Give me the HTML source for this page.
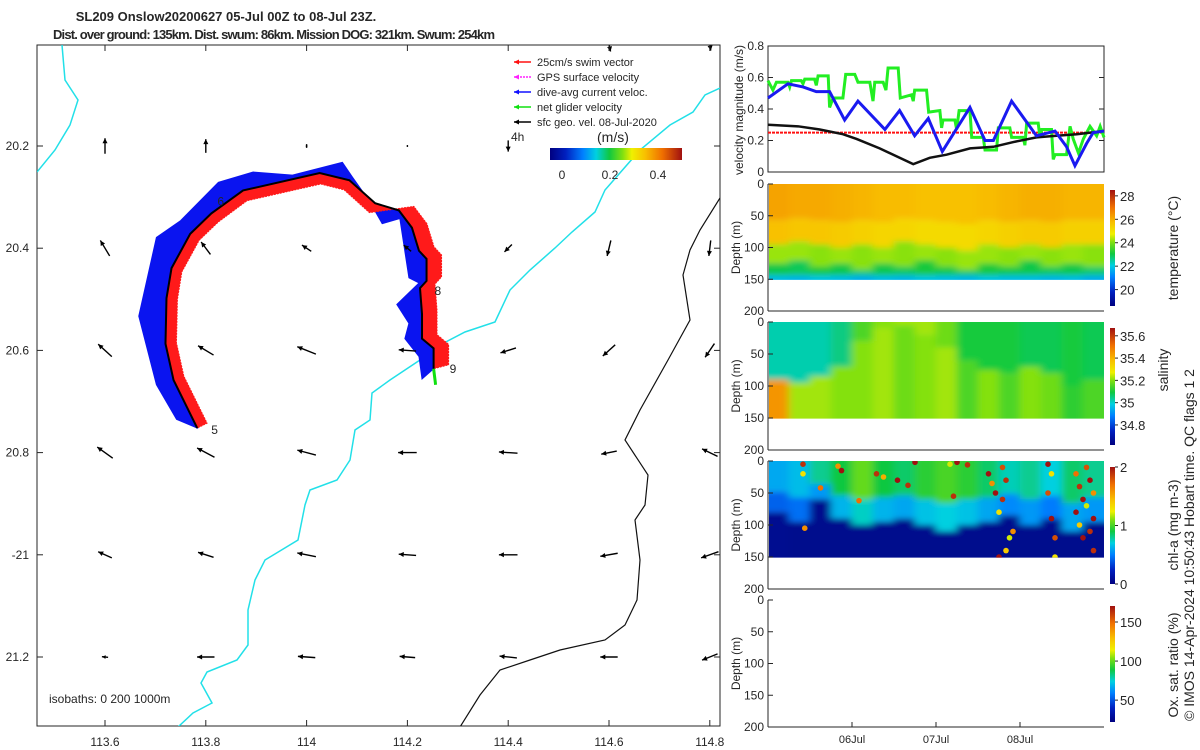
<!DOCTYPE html>
<html><head><meta charset="utf-8"><title>SL209 Onslow glider</title>
<style>
html,body{margin:0;padding:0;background:#fff;}
svg{display:block;font-family:"Liberation Sans",sans-serif;}
text{fill:#262626;}
</style></head>
<body>
<svg id="fig" width="1200" height="750" viewBox="0 0 1200 750" xmlns="http://www.w3.org/2000/svg">
<defs>
<linearGradient id="jet" x1="0" y1="1" x2="0" y2="0">
<stop offset="0" stop-color="#000080"/><stop offset="0.12" stop-color="#0020c0"/><stop offset="0.25" stop-color="#0080ff"/><stop offset="0.35" stop-color="#00d0e0"/><stop offset="0.45" stop-color="#10c840"/><stop offset="0.55" stop-color="#80e010"/><stop offset="0.62" stop-color="#f0f000"/><stop offset="0.72" stop-color="#f8c000"/><stop offset="0.85" stop-color="#f07000"/><stop offset="1" stop-color="#a01010"/>
</linearGradient>
<linearGradient id="jeth" x1="0" y1="0" x2="1" y2="0">
<stop offset="0" stop-color="#000080"/><stop offset="0.12" stop-color="#0020c0"/><stop offset="0.25" stop-color="#0080ff"/><stop offset="0.35" stop-color="#00d0e0"/><stop offset="0.45" stop-color="#10c840"/><stop offset="0.55" stop-color="#80e010"/><stop offset="0.62" stop-color="#f0f000"/><stop offset="0.72" stop-color="#f8c000"/><stop offset="0.85" stop-color="#f07000"/><stop offset="1" stop-color="#a01010"/>
</linearGradient>
<clipPath id="mapclip"><rect x="37" y="45" width="683" height="681"/></clipPath>
<filter id="soft" x="-5%" y="-5%" width="110%" height="110%"><feGaussianBlur stdDeviation="4 3"/></filter>
</defs>
<text x="226" y="21" text-anchor="middle" font-size="13" font-weight="bold">SL209 Onslow20200627 05-Jul 00Z to 08-Jul 23Z.</text>
<text x="274" y="39" text-anchor="middle" font-size="13" font-weight="bold" textLength="442" lengthAdjust="spacing">Dist. over ground: 135km. Dist. swum: 86km. Mission DOG: 321km. Swum: 254km</text>
<g id="map"></g>
<g id="right"></g>
</svg>
<script>
// ---------- DATA ----------
var greenT=[0,1.4,2.4,5.7,6.2,6.7,9.5,10,10.5,13.3,13.8,14.3,17.2,17.6,18.6,21.4,22.2,24.8,25.7,29.1,30,30.5,32.9,33.7,34.3,37.2,37.8,41,41.5,41.9,45.3,45.9,49.1,49.6,50,53.4,53.9,54.6,57.7,58.2,61.5,62,65.3,65.8,69.1,69.6,72.9,73.4,73.9,77.2,77.7,78.2,81,81.5,82,85.3,86.3,87.2,88.7,90.1,92,93.9,94.9,96];
var greenV=[0.58,0.52,0.57,0.57,0.54,0.58,0.58,0.56,0.59,0.59,0.55,0.61,0.61,0.41,0.47,0.47,0.62,0.62,0.57,0.57,0.45,0.57,0.57,0.52,0.66,0.66,0.47,0.49,0.45,0.52,0.52,0.38,0.39,0.28,0.33,0.33,0.27,0.39,0.39,0.22,0.22,0.14,0.14,0.28,0.28,0.22,0.22,0.17,0.31,0.31,0.22,0.27,0.27,0.08,0.11,0.11,0.29,0.21,0.12,0.21,0.29,0.23,0.29,0.22];
var blueT=[0,5.7,10,13.8,17.6,21.9,25.7,33.4,37.6,41.9,45.8,49.8,57.7,62,64.4,69.6,76.7,82,85.3,87.7,91,92.9,96];
var blueV=[0.47,0.56,0.54,0.51,0.51,0.33,0.45,0.27,0.39,0.23,0.34,0.13,0.41,0.2,0.2,0.45,0.23,0.26,0.16,0.04,0.18,0.25,0.26];
var blackT=[0,8.6,14.8,21.4,25.3,31.9,36.7,41.5,46.2,51,57.7,64.4,70.1,76.7,82.4,88.2,96];
var blackV=[0.3,0.29,0.27,0.24,0.21,0.15,0.1,0.05,0.09,0.11,0.15,0.16,0.19,0.22,0.23,0.24,0.26];
var swimTarget=[0.25];
var velTicks=[0,0.2,0.4,0.6,0.8];
var dateTicks=[24,48,72];
var dateLabels=["06Jul","07Jul","08Jul"];
var depthTicks=[0,50,100,150,200];
var tempTop=[26.0,25.9,25.9,25.8,25.7,25.6,25.6,25.5,25.5,25.5,25.6,25.7,25.8,25.8,25.7,25.7];
var tempMixDepth=[95,90,95,100,95,100,90,95,100,105,95,100,95,100,95,95];
var tempMid=[24.2,24.2,24.1,24.2,24.1,24.2,24.1,24.2,24.1,24.2,24.2,24.1,24.2,24.1,24.2,24.1];
var tempColdDepth=[125,120,130,125,135,125,130,120,130,135,125,130,120,130,125,130];
var tempDeep=[23.0,22.9,23.1,23.0,22.8,23.0,22.9,23.1,23.0,22.9,23.1,23.0,23.0,22.9,23.0,22.8];
var tempTicks=[20,22,24,26,28];
var salTop=[35.02,35.02,35.02,35.05,35.15,35.2,35.22,35.22,35.18,35.1,35.1,35.1,35.08,35.08,35.1,35.08];
var salBoundary=[90,95,85,70,30,10,5,20,40,60,75,80,70,80,100,90];
var salDeep=[35.45,35.22,35.22,35.2,35.2,35.22,35.18,35.2,35.22,35.15,35.2,35.15,35.2,35.18,35.12,35.15];
var salTicks=[34.8,35,35.2,35.4,35.6];
var chlTop=[0.6,0.65,0.8,0.9,1.05,0.9,0.85,0.95,1.0,0.95,0.85,0.75,0.8,0.7,0.85,0.8];
var chlBoundary=[80,95,60,90,100,95,90,100,110,100,95,85,100,90,110,95];
var chlDeep=[0.06,0.05,0.05,0.05,0.05,0.05,0.05,0.05,0.05,0.05,0.05,0.05,0.05,0.05,0.05,0.05];
var chlDotT=[10,10,10.5,15,20,21,26,31,33,37,40,42,52,53,54,57,63,64,65,66,66,67,67,68,68,69,70,80,80,81,81,82,82,88,88,89,89,90,90,91,91,92,92,93,93,93];
var chlDotD=[5,20,105,42,8,15,62,20,25,30,38,2,5,55,2,6,20,35,50,80,150,10,60,30,140,120,110,5,50,20,90,120,150,20,80,40,100,60,120,10,70,30,110,50,90,140];
var chlDotV=[1.9,1.3,1.6,1.7,1.6,2,1.7,1.9,1.5,2,1.9,2,1.2,1.9,2,1.9,2,1.6,2,1.3,2,1.8,1.9,1.9,1.4,1.2,1.6,2,1.8,1.3,2,1.8,1.3,1.7,2,1.9,1.4,2,2,1.8,1.2,2,1.9,1.6,2,1.9];
var chlTicks=[0,1,2];
var oxTicks=[50,100,150];
var lonTicks=[113.6,113.8,114,114.2,114.4,114.6,114.8];
var lonLabels=["113.6","113.8","114","114.2","114.4","114.6","114.8"];
var latTicks=[20.2,20.4,20.6,20.8,21,21.2];
var latLabels=["20.2","20.4","20.6","20.8","-21","21.2"];
var trackLon=[113.783,113.736,113.72,113.722,113.732,113.769,113.811,113.874,114.026,114.085,114.136,114.183,114.209,114.223,114.238,114.238,114.225,114.229,114.229,114.252,114.252];
var trackLat=[20.752,20.658,20.587,20.498,20.439,20.372,20.332,20.287,20.253,20.267,20.312,20.326,20.36,20.405,20.421,20.464,20.478,20.529,20.577,20.596,20.636];
var curLon=[113.742,113.702,113.667,113.702,113.75,113.825,113.894,113.972,114.071,114.091,114.124,114.15,114.185,114.203,114.223,114.179,114.203,114.195,114.223,114.229];
var curLat=[20.735,20.667,20.533,20.379,20.346,20.271,20.251,20.257,20.232,20.261,20.307,20.352,20.342,20.458,20.468,20.51,20.547,20.577,20.612,20.656];
var arrLon=[114.2,114.6,114.8, 113.6,113.8,114,114.2,114.4, 113.6,113.8,114,114.2,114.4,114.6,114.8, 113.6,113.8,114,114.2,114.4,114.6,114.8, 113.6,113.8,114,114.2,114.4,114.6,114.8, 113.6,113.8,114,114.2,114.4,114.6,114.8, 113.6,113.8,114,114.2,114.4,114.6,114.8];
var arrLat=[20.0,20.0,20.0, 20.2,20.2,20.2,20.2,20.2, 20.4,20.4,20.4,20.4,20.4,20.4,20.4, 20.6,20.6,20.6,20.6,20.6,20.6,20.6, 20.8,20.8,20.8,20.8,20.8,20.8,20.8, 21,21,21,21,21,21,21, 21.2,21.2,21.2,21.2,21.2,21.2,21.2];
var arrU=[0,0.05,0.03, 0,0,0,0,0, -0.15,-0.15,-0.15,-0.12,-0.12,-0.06,-0.03, -0.22,-0.25,-0.3,-0.28,-0.25,-0.2,-0.15, -0.25,-0.28,-0.3,-0.3,-0.3,-0.25,-0.25, -0.22,-0.25,-0.3,-0.28,-0.3,-0.28,-0.28, -0.1,-0.28,-0.28,-0.25,-0.28,-0.28,-0.25];
var arrV=[-0.03,-0.25,-0.22, 0.25,0.22,0.06,0.03,-0.18, 0.25,0.2,0.1,0.1,-0.12,-0.25,-0.25, 0.2,0.15,0.12,0.02,-0.08,-0.18,-0.22, 0.18,0.15,0.08,0,0.02,-0.05,0.12, 0.1,0.08,0.06,0.02,0,-0.05,-0.1, 0.01,0,0.02,0.02,0.03,0,-0.1];
var coastA=[[62,45],[65,80],[78,100],[70,125],[55,150],[37,172]];
var coastB=[[720,88],[705,95],[693,112],[670,125],[640,150],[605,190],[595,212],[572,232],[555,248],[530,270],[510,290],[495,322],[465,332],[440,345],[420,360],[390,380],[372,393],[370,420],[355,430],[350,460],[337,480],[310,490],[305,505],[298,540],[265,560],[255,580],[248,610],[248,645],[237,660],[207,672],[201,683],[212,703],[193,713],[178,727]];
var iso1000=[[720,198],[700,230],[690,250],[683,275],[690,320],[668,360],[640,410],[625,440],[648,475],[645,505],[635,520],[640,560],[637,600],[625,625],[605,640],[560,650],[530,660],[500,670],[480,695],[460,727]];

var NS="http://www.w3.org/2000/svg";
function mk(tag,attrs,parent){var e=document.createElementNS(NS,tag);for(var k in attrs)e.setAttribute(k,attrs[k]);parent.appendChild(e);return e;}
var stops=[[0,[0,0,128]],[0.12,[0,32,192]],[0.25,[0,128,255]],[0.35,[0,208,224]],[0.45,[16,200,64]],[0.55,[128,224,16]],[0.62,[240,240,0]],[0.72,[248,192,0]],[0.85,[240,112,0]],[1,[160,16,16]]];
function cmap(f){f=Math.max(0,Math.min(1,f));for(var i=1;i<stops.length;i++){if(f<=stops[i][0]){var a=stops[i-1],b=stops[i],t=(f-a[0])/(b[0]-a[0]);var c=a[1].map(function(v,j){return Math.round(v+(b[1][j]-v)*t);});return "rgb("+c.join(",")+")";}}return "rgb(160,16,16)";}

var map=document.getElementById('map'), right=document.getElementById('right');
function lx(lon){return 105+(lon-113.6)*504;}
function ly(lat){return 146+(lat-20.2)*511;}
var el;
el=mk('rect',{x:37,y:45,width:683,height:681,fill:'#fff',stroke:'#262626','stroke-width':1},map);


var mg=mk('g',{'clip-path':'url(#mapclip)'},map);
function ptsPx(a){return a.map(function(p){return p[0]+','+p[1];}).join(' ');}
el=mk('polyline',{points:ptsPx(coastA),fill:'none',stroke:'#22e0e8','stroke-width':1.5},mg);


el=mk('polyline',{points:ptsPx(coastB),fill:'none',stroke:'#22e0e8','stroke-width':1.5},mg);


el=mk('polyline',{points:ptsPx(iso1000),fill:'none',stroke:'#111','stroke-width':1.2},mg);


var tp=trackLon.map(function(v,i){return [lx(v),ly(trackLat[i])];});
var cp=curLon.map(function(v,i){return [lx(v),ly(curLat[i])];});
var bluePts=[tp[0]].concat(cp).concat(tp.slice().reverse());
el=mk('polygon',{points:ptsPx(bluePts),fill:'#0a14f0',stroke:'#0a14f0','stroke-width':1},mg);


var off=[];
for(var i=0;i<tp.length;i++){var a=tp[Math.max(0,i-1)],b=tp[Math.min(tp.length-1,i+1)];var dx=b[0]-a[0],dy=b[1]-a[1],L=Math.hypot(dx,dy)||1;
 if(i<=10){off.push([tp[i][0]-dy/L*11,tp[i][1]+dx/L*11]);}else{off.push([tp[i][0]+15,tp[i][1]-4]);}}
var redPts=tp.concat(off.slice().reverse());
el=mk('polygon',{points:ptsPx(redPts),fill:'#ff1a1a',stroke:'#ff1a1a','stroke-width':1,'stroke-dasharray':'2,1'},mg);


el=mk('polyline',{points:ptsPx(tp),fill:'none',stroke:'#000','stroke-width':2},mg);


el=mk('line',{x1:tp[tp.length-1][0],y1:tp[tp.length-1][1],x2:tp[tp.length-1][0]+2,y2:tp[tp.length-1][1]+16,stroke:'#10e010','stroke-width':3},mg);


var dayLab=[["5",0],["6",6],["8",15],["9",20]];
var dayOff=[[14,6],[6,-8],[8,14],[16,4]];
dayLab.forEach(function(d,k){var p=tp[d[1]];el=mk('text',{x:p[0]+dayOff[k][0],y:p[1]+dayOff[k][1],'font-size':12},mg);el.textContent=d[0];

});
var sc=62;
for(var i=0;i<arrLon.length;i++){
 var cx=lx(arrLon[i]),cy=ly(arrLat[i]),dx=arrU[i]*sc,dy=-arrV[i]*sc;
 var x1=cx-dx/2,y1=cy-dy/2,x2=cx+dx/2,y2=cy+dy/2,L=Math.hypot(dx,dy)||1,ux=dx/L,uy=dy/L;
 var g=mk('g',{},mg);
 
 
 mk('line',{x1:x1,y1:y1,x2:x2,y2:y2,stroke:'#000','stroke-width':1.4},g);
 var hs=Math.min(5,L*0.6);
 mk('polygon',{points:[x2,y2,x2-ux*hs-uy*hs*0.5,y2-uy*hs+ux*hs*0.5,x2-ux*hs+uy*hs*0.5,y2-uy*hs-ux*hs*0.5].join(','),fill:'#000'},g);
}
lonTicks.forEach(function(v,i){var x=lx(v);mk('line',{x1:x,y1:726,x2:x,y2:720,stroke:'#262626'},map);mk('line',{x1:x,y1:45,x2:x,y2:51,stroke:'#262626'},map);
el=mk('text',{x:x,y:746,'text-anchor':'middle','font-size':12},map);el.textContent=lonLabels[i];

});
latTicks.forEach(function(v,i){var y=ly(v);mk('line',{x1:37,y1:y,x2:43,y2:y,stroke:'#262626'},map);mk('line',{x1:720,y1:y,x2:714,y2:y,stroke:'#262626'},map);
el=mk('text',{x:29,y:y+4,'text-anchor':'end','font-size':12},map);el.textContent=latLabels[i];

});
el=mk('text',{x:49,y:703,'font-size':12},map);el.textContent='isobaths: 0   200  1000m';


el.setAttribute('xml:space','preserve');
var legItems=[['25cm/s swim vector','#ff1010'],['GPS surface velocity','#ff20ff'],['dive-avg current veloc.','#1010ff'],['net glider velocity','#10e010'],['sfc geo. vel. 08-Jul-2020','#000']];
legItems.forEach(function(it,i){var y=62+i*15;var g=mk('g',{},map);


mk('line',{x1:514,y1:y,x2:531,y2:y,stroke:it[1],'stroke-width':1.5,'stroke-dasharray':i==1?'2,1':'none'},g);
mk('polygon',{points:(514)+','+y+' '+(519)+','+(y-2.5)+' '+(519)+','+(y+2.5),fill:it[1]},g);
var t=mk('text',{x:537,y:y+4,'font-size':11},g);t.textContent=it[0];});
el=mk('text',{x:511,y:141,'font-size':12},map);el.textContent='4h';


el=mk('text',{x:597,y:142,'font-size':14},map);el.textContent='(m/s)';


el=mk('rect',{x:550,y:148,width:132,height:12,fill:'url(#jeth)'},map);


[["0",562],["0.2",610],["0.4",658]].forEach(function(t){el=mk('text',{x:t[1],y:179,'text-anchor':'middle','font-size':12},map);el.textContent=t[0];

});

var X0=768,X1=1104;
function tx(h){return X0+h*(X1-X0)/96;}
var vy0=172,vy1=46;
function vy(v){return vy0+(vy1-vy0)*v/0.8;}
el=mk('rect',{x:X0,y:vy1,width:X1-X0,height:vy0-vy1,fill:'#fff',stroke:'#262626'},right);


velTicks.forEach(function(v){var y=vy(v);mk('line',{x1:X0,y1:y,x2:X0+5,y2:y,stroke:'#262626'},right);mk('line',{x1:X1,y1:y,x2:X1-5,y2:y,stroke:'#262626'},right);
el=mk('text',{x:764,y:y+4,'text-anchor':'end','font-size':12},right);el.textContent=String(v);

});
el=mk('text',{transform:'translate(743,110) rotate(-90)','text-anchor':'middle','font-size':12},right);el.textContent='velocity magnitude (m/s)';


function line(T,V){return T.map(function(t,i){return tx(t)+','+vy(V[i]);}).join(' ');}
el=mk('line',{x1:X0,y1:vy(swimTarget[0]),x2:X1,y2:vy(swimTarget[0]),stroke:'#ff1010','stroke-width':2,'stroke-dasharray':'3,1'},right);


el=mk('polyline',{points:line(greenT,greenV),fill:'none',stroke:'#22ee22','stroke-width':3},right);


el=mk('polyline',{points:line(blackT,blackV),fill:'none',stroke:'#111','stroke-width':2.5},right);


el=mk('polyline',{points:line(blueT,blueV),fill:'none',stroke:'#1a1af0','stroke-width':3},right);



var defs=document.querySelector('defs');
var panels=[
 {top:184,bot:311,name:'temperature',lo:18.6,hi:28.5,ticks:tempTicks,label:'temperature (°C)',ly:248},
 {top:322,bot:450,name:'salinity',lo:34.62,hi:35.67,ticks:salTicks,label:'salinity',ly:370},
 {top:461,bot:589,name:'chlorophyll',lo:0,hi:2,ticks:chlTicks,label:'chl-a (mg m-3)',ly:525},
 {top:600,bot:727,name:'oxygen',lo:22,hi:170.5,ticks:oxTicks,label:'Ox. sat. ratio (%)',ly:665}
];
panels.forEach(function(P,pi){
 function dy(d){return P.top+(P.bot-P.top)*d/200;}
 var cl=mk('clipPath',{id:'clip'+pi},defs);
 mk('rect',{x:X0+1,y:dy(0),width:X1-X0-1,height:dy(151)-dy(0)},cl);
 var outer=mk('g',{'clip-path':'url(#clip'+pi+')'},right);
 
 
 var g=mk('g',{filter:'url(#soft)'},outer);
 function col(i,d0,d1,val){mk('rect',{x:tx(i*6)-0.3-(i==0?8:0),y:dy(d0)-(d0==0?8:0),width:(X1-X0)/16+0.6+(i==0||i==15?8:0),height:Math.max(0,dy(d1)-dy(d0))+(d0==0?8:0)+(d1>=150?8:0),fill:cmap((val-P.lo)/(P.hi-P.lo))},g);}
 for(var i=0;i<16;i++){
  if(pi==0){col(i,0,tempMixDepth[i]*0.6,tempTop[i]+0.2);col(i,tempMixDepth[i]*0.6,tempMixDepth[i],tempTop[i]-0.3);col(i,tempMixDepth[i],tempColdDepth[i],tempMid[i]);col(i,tempColdDepth[i],144,tempDeep[i]);col(i,144,150,tempDeep[i]-1.2);}
  if(pi==1){col(i,0,salBoundary[i],salTop[i]);col(i,salBoundary[i],150,salDeep[i]);}
  if(pi==2){col(i,0,chlBoundary[i]*0.6,chlTop[i]);col(i,chlBoundary[i]*0.6,chlBoundary[i],chlTop[i]*0.7);col(i,chlBoundary[i],150,chlDeep[i]);}
 }
 if(pi==2){for(var k=0;k<chlDotT.length;k++){var c=mk('circle',{cx:tx(chlDotT[k]),cy:dy(chlDotD[k]),r:2.8,fill:cmap((chlDotV[k]-P.lo)/(P.hi-P.lo))},outer);
  
  }}
 mk('line',{x1:X0,y1:P.top,x2:X0,y2:P.bot,stroke:'#262626'},right);
 mk('line',{x1:X0,y1:P.bot,x2:X1,y2:P.bot,stroke:'#262626'},right);
 depthTicks.forEach(function(d){var y=dy(d);mk('line',{x1:X0,y1:y,x2:X0+5,y2:y,stroke:'#262626'},right);
  el=mk('text',{x:764,y:y+4,'text-anchor':'end','font-size':12},right);el.textContent=String(d);
  
  });
 el=mk('text',{transform:'translate(740,'+((P.top+P.bot)/2)+') rotate(-90)','text-anchor':'middle','font-size':12},right);el.textContent='Depth (m)';
 
 
 var cb0=P.top+6,cb1=P.bot-5;
 el=mk('rect',{x:1110,y:cb0,width:5,height:cb1-cb0,fill:'url(#jet)'},right);
 
 
 P.ticks.forEach(function(t){var y=cb1-(cb1-cb0)*(t-P.lo)/(P.hi-P.lo);mk('line',{x1:1115,y1:y,x2:1118,y2:y,stroke:'#262626'},right);
  el=mk('text',{x:1120,y:y+5,'font-size':13},right);el.textContent=String(t);
  
  });
 el=mk('text',{transform:'translate('+(pi==1?1168:1178)+','+P.ly+') rotate(-90)','text-anchor':'middle','font-size':14},right);el.textContent=P.label;
 
 
});
dateTicks.forEach(function(h,i){var x=tx(h);mk('line',{x1:x,y1:727,x2:x,y2:722,stroke:'#262626'},right);
 el=mk('text',{x:x,y:743,'text-anchor':'middle','font-size':11},right);el.textContent=dateLabels[i];
 
 });
el=mk('text',{transform:'translate(1194,545) rotate(-90)','text-anchor':'middle','font-size':14},right);el.textContent='© IMOS 14-Apr-2024 10:50:43 Hobart time. QC flags 1  2';


el.setAttribute('xml:space','preserve');
</script>
</body></html>
